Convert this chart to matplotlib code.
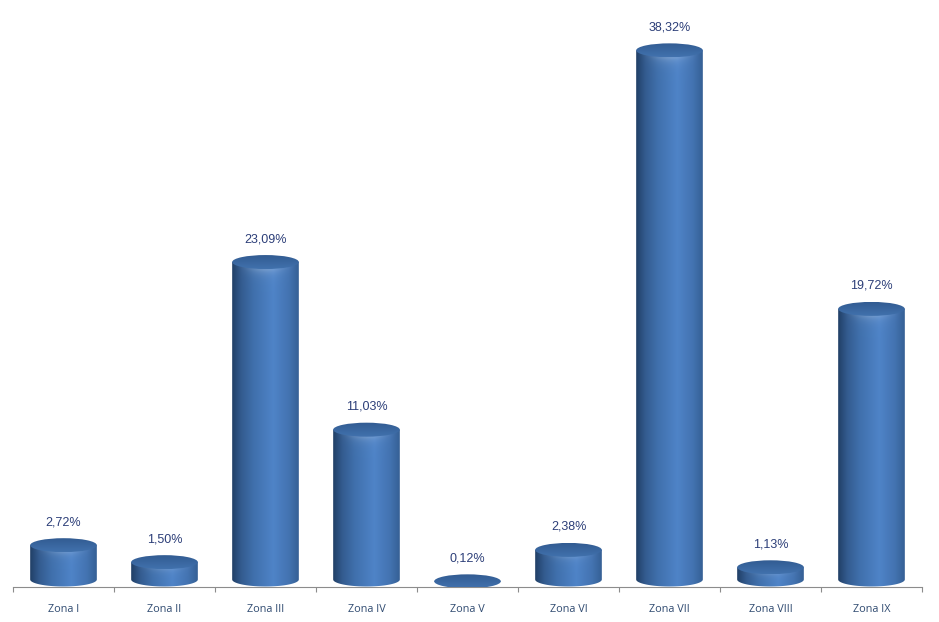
import numpy as np
import matplotlib
matplotlib.use("Agg")
import matplotlib.pyplot as plt
from matplotlib.patches import Ellipse, PathPatch
from matplotlib.path import Path

categories = ["Zona I", "Zona II", "Zona III", "Zona IV", "Zona V", "Zona VI", "Zona VII", "Zona VIII", "Zona IX"]
values = [2.72, 1.50, 23.09, 11.03, 0.12, 2.38, 38.32, 1.13, 19.72]
labels = ["2,72%", "1,50%", "23,09%", "11,03%", "0,12%", "2,38%", "38,32%", "1,13%", "19,72%"]

W, H = 939, 622
PX_PER_UNIT = 13.9
BASE_PX, AXIS_PX = 583, 587
LEFT, RIGHT = 13, 922
fig = plt.figure(figsize=(W / 100, H / 100), dpi=100, facecolor="white")
ax = fig.add_axes([LEFT / W, 1 - AXIS_PX / H, (RIGHT - LEFT) / W, AXIS_PX / H])
ax.patch.set_alpha(0)
ymin, ymax = -(AXIS_PX - BASE_PX) / PX_PER_UNIT, BASE_PX / PX_PER_UNIT

half_w = 0.33
ry = 7 / PX_PER_UNIT
stops_u = [0, .05, .14, .32, .62, .85, 1]
stops_c = np.array([[34, 64, 102], [40, 74, 118], [52, 92, 144], [64, 112, 172],
                    [79, 132, 200], [68, 116, 178], [54, 96, 150]], float)


def body_image(h_px):
    nx, ny = 134, max(int(h_px) + 14, 8)
    u = np.linspace(0, 1, nx)
    row = np.stack([np.interp(u, stops_u, stops_c[:, i]) for i in range(3)], axis=1)
    img = np.repeat(row[None, :, :], ny, axis=0)
    depth = np.arange(ny)[:, None]
    curve = (7 * np.sqrt(np.clip(1 - (2 * u - 1) ** 2, 0, 1)))[None, :]
    glow = 0.20 * np.exp(-np.clip(depth - curve - 1, 0, None) / 5.0)
    glow = glow * np.sin(np.pi * u)[None, :] ** 2
    img = img + (255 - img) * glow[:, :, None]
    return np.clip(img, 0, 255).astype(np.uint8)


def top_image():
    t = np.linspace(0, 1, 40)[:, None]
    c0, c1 = np.array([50, 92, 146.]), np.array([66, 114, 174.])
    img = c0[None, :] + (c1 - c0)[None, :] * t
    return img[:, None, :].astype(np.uint8)


for i, v in enumerate(values):
    x0, x1 = i - half_w, i + half_w
    theta = np.linspace(np.pi, 2 * np.pi, 60)
    bottom_c = 3.5 / PX_PER_UNIT
    bx = i + half_w * np.cos(theta)
    by = bottom_c + (7 / PX_PER_UNIT) * np.sin(theta)
    verts = [(x0, v)] + list(zip(bx, by)) + [(x1, v), (x0, v)]
    clip = PathPatch(Path(verts), transform=ax.transData, fc="none", ec="none")
    ax.add_patch(clip)
    im = ax.imshow(body_image(v * PX_PER_UNIT + 4), extent=[x0, x1, -0.35, v],
                   aspect="auto", zorder=2, interpolation="bilinear")
    im.set_clip_path(clip)
    el = Ellipse((i, v), 2 * half_w, 2 * ry, fc="none", ec="none", transform=ax.transData)
    ax.add_patch(el)
    im2 = ax.imshow(top_image(), extent=[x0, x1, v - ry, v + ry], aspect="auto",
                    zorder=3, interpolation="bilinear")
    im2.set_clip_path(el)
    ax.text(i, v + 23 / PX_PER_UNIT, labels[i], ha="center", va="center", fontsize=9,
            family="Liberation Sans", color="#2c3e78")

ax.set_xlim(-0.5, len(values) - 0.5)
ax.set_ylim(ymin, ymax)
for s in ("top", "left", "right"):
    ax.spines[s].set_visible(False)
ax.spines["bottom"].set_color("#8c8c8c")
ax.spines["bottom"].set_linewidth(0.8)
ax.set_yticks([])
ax.set_xticks(range(len(categories)))
ax.set_xticklabels(categories, fontsize=7.8, family="Open Sans", color="#2f4a70")
ax.tick_params(axis="x", which="major", length=0, pad=12)
ax.set_xticks(np.arange(-0.5, len(values)), minor=True)
ax.tick_params(axis="x", which="minor", length=3.6, width=0.8, color="#8c8c8c")

fig.savefig("out.png", dpi=100)
